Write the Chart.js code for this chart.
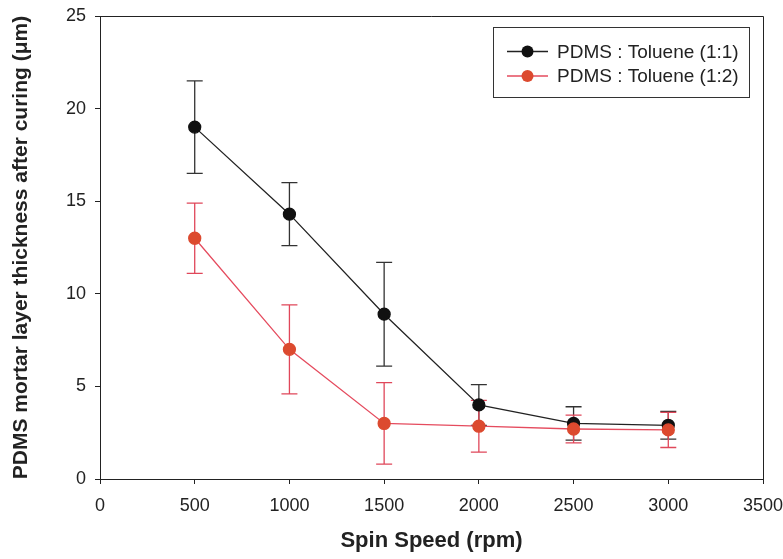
<!DOCTYPE html>
<html>
<head>
<meta charset="utf-8">
<script src="https://cdn.jsdelivr.net/npm/chart.js@4.4.1/dist/chart.umd.min.js"></script>
<style>
  body { margin: 0; background: #fff; }
</style>
</head>
<body>
<canvas id="spin-chart" width="783" height="559"></canvas>
<script>
// spin speed (rpm) and measured thickness (um) with error bars
const speeds = [500, 1000, 1500, 2000, 2500, 3000];
const ratio11 = [19.0, 14.3, 8.9, 4.0, 3.0, 2.9];
const ratio11Err = [2.5, 1.7, 2.8, 1.1, 0.9, 0.75];
const ratio12 = [13.0, 7.0, 3.0, 2.85, 2.7, 2.65];
const ratio12Err = [1.9, 2.4, 2.2, 1.4, 0.75, 0.95];
const seriesLabels = ['PDMS : Toluene (1:1)', 'PDMS : Toluene (1:2)'];

const FONT = "'Liberation Sans', Arial, sans-serif";

// draws the vertical error bars through the chart scales
const errorBars = {
  id: 'errorBars',
  beforeDatasetsDraw(chart) {
    const ctx = chart.ctx;
    const x = chart.scales.x, y = chart.scales.y;
    chart.data.datasets.forEach((ds) => {
      ctx.save();
      ctx.strokeStyle = ds.errorColor;
      ctx.lineWidth = 1.3;
      ds.data.forEach((p, j) => {
        const px = x.getPixelForValue(p.x);
        const top = y.getPixelForValue(p.y + ds.errors[j]);
        const bot = y.getPixelForValue(p.y - ds.errors[j]);
        ctx.beginPath();
        ctx.moveTo(px, top); ctx.lineTo(px, bot);
        ctx.moveTo(px - 8, top); ctx.lineTo(px + 8, top);
        ctx.moveTo(px - 8, bot); ctx.lineTo(px + 8, bot);
        ctx.stroke();
      });
      ctx.restore();
    });
  }
};

// frame round the plot area + boxed legend in the top right
const frameAndLegend = {
  id: 'frameAndLegend',
  afterDraw(chart) {
    const ctx = chart.ctx;
    const a = chart.chartArea;
    ctx.save();
    ctx.strokeStyle = '#222';
    ctx.lineWidth = 1;
    ctx.beginPath();
    ctx.moveTo(a.left, a.top + 0.5); ctx.lineTo(a.right + 0.5, a.top + 0.5);
    ctx.lineTo(a.right + 0.5, a.bottom);
    ctx.stroke();

    // legend box
    ctx.strokeStyle = '#333';
    ctx.strokeRect(493.5, 27.5, 256, 70);
    ctx.font = '19px ' + FONT;
    ctx.textBaseline = 'middle';
    const rows = [51.5, 76];
    chart.data.datasets.forEach((ds, i) => {
      const yy = rows[i];
      ctx.strokeStyle = ds.borderColor;
      ctx.lineWidth = 1.3;
      ctx.beginPath();
      ctx.moveTo(507, yy); ctx.lineTo(548, yy);
      ctx.stroke();
      ctx.fillStyle = ds.pointBackgroundColor;
      ctx.beginPath();
      ctx.arc(527.5, yy, 6, 0, Math.PI * 2);
      ctx.fill();
      ctx.fillStyle = '#222';
      ctx.fillText(ds.label, 557, yy + 1);
    });
    ctx.restore();
  }
};

const tickFont = { family: FONT, size: 18 };

new Chart(document.getElementById('spin-chart').getContext('2d'), {
  type: 'line',
  data: {
    datasets: [
      {
        label: seriesLabels[0],
        data: speeds.map((s, i) => ({ x: s, y: ratio11[i] })),
        errors: ratio11Err,
        errorColor: '#333',
        borderColor: '#222',
        borderWidth: 1.3,
        pointBackgroundColor: '#111',
        pointBorderColor: '#111',
        pointRadius: 6,
        order: 1
      },
      {
        label: seriesLabels[1],
        data: speeds.map((s, i) => ({ x: s, y: ratio12[i] })),
        errors: ratio12Err,
        errorColor: '#e0475a',
        borderColor: '#e54b5e',
        borderWidth: 1.3,
        pointBackgroundColor: '#dc4a2f',
        pointBorderColor: '#dc4a2f',
        pointRadius: 6,
        order: 0
      }
    ]
  },
  options: {
    responsive: false,
    animation: false,
    layout: { padding: { top: 16, right: 20, bottom: 0, left: 0 } },
    plugins: {
      legend: { display: false },
      tooltip: { enabled: false }
    },
    scales: {
      x: {
        type: 'linear',
        min: 0,
        max: 3500,
        ticks: { stepSize: 500, color: '#222', font: tickFont, padding: 11, maxRotation: 0, callback: (v) => String(v) },
        grid: { drawOnChartArea: false, tickLength: 5, color: '#222' },
        border: { color: '#222', width: 1 },
        title: { display: true, text: 'Spin Speed (rpm)', color: '#222', font: { family: FONT, size: 22, weight: 'bold' }, padding: { top: 0, bottom: 5 } },
        afterFit: (s) => { s.height = 80; s.paddingLeft = 0; s.paddingRight = 0; }
      },
      y: {
        min: 0,
        max: 25,
        ticks: { stepSize: 5, color: '#222', font: tickFont, padding: 9 },
        grid: { drawOnChartArea: false, tickLength: 5, color: '#222' },
        border: { color: '#222', width: 1 },
        title: { display: true, text: 'PDMS mortar layer thickness after curing (\u03bcm)', color: '#222', font: { family: FONT, size: 21, weight: 'bold' }, padding: { top: 9, bottom: 0 } },
        afterFit: (s) => { s.width = 100; s.paddingTop = 0; s.paddingBottom = 0; }
      }
    }
  },
  plugins: [errorBars, frameAndLegend]
});
</script>
</body>
</html>
